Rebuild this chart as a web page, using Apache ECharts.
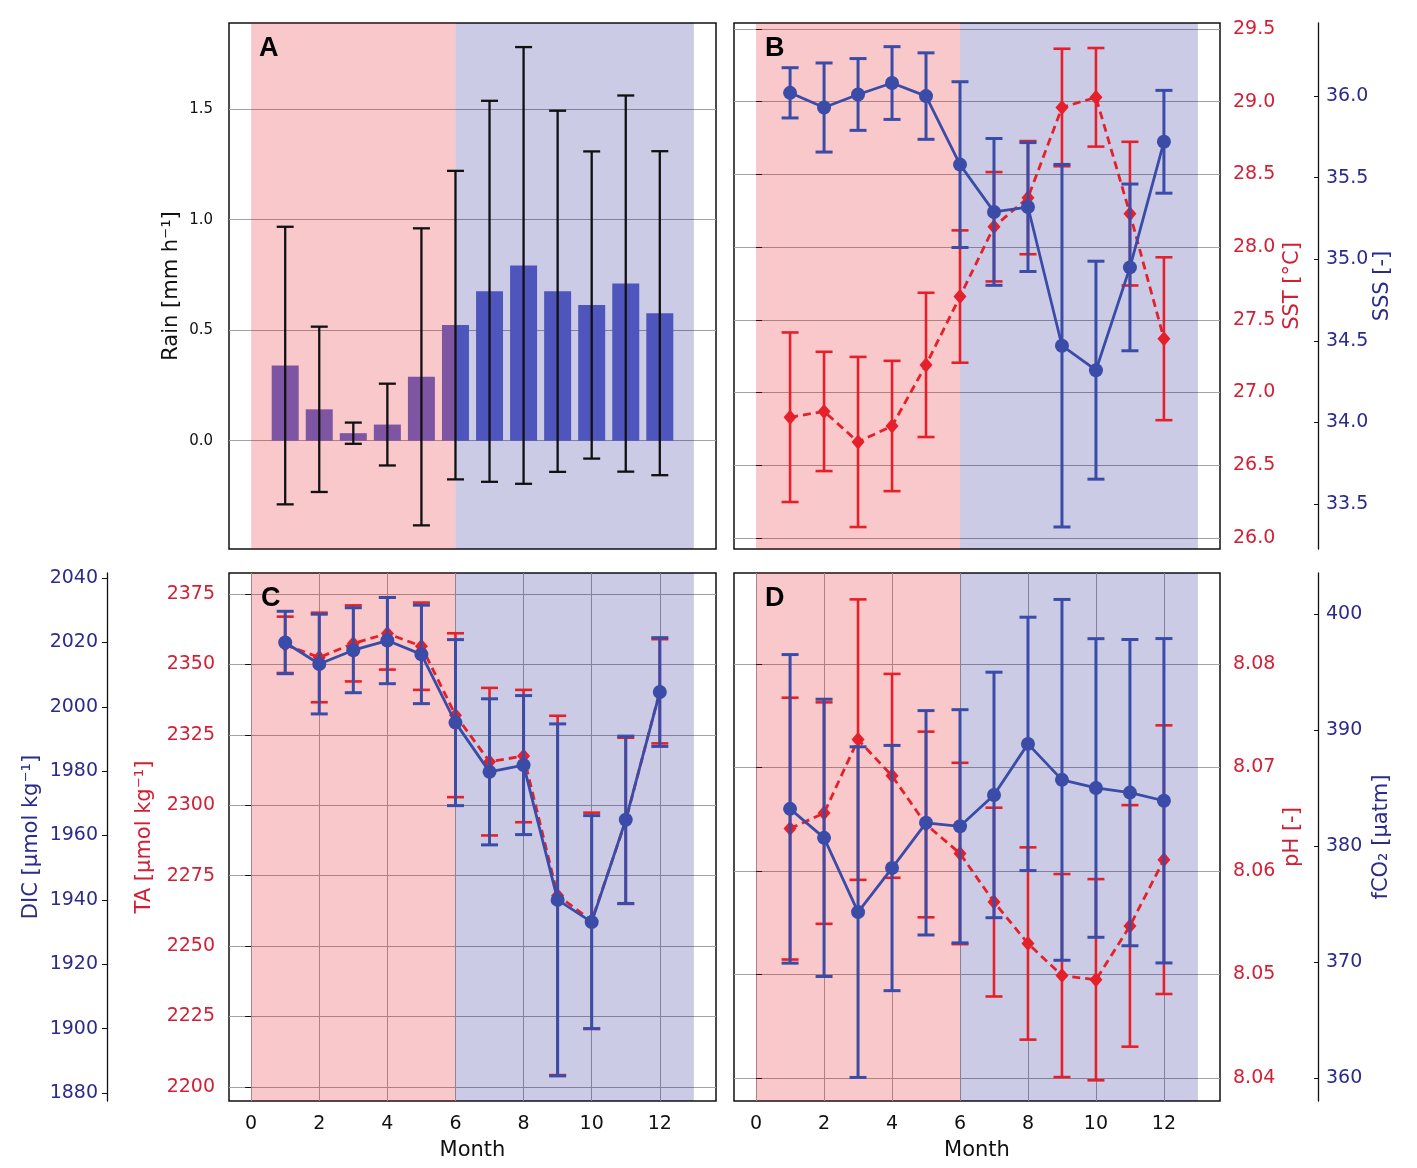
<!DOCTYPE html>
<html>
<head>
<meta charset="utf-8">
<script src="https://cdn.jsdelivr.net/npm/echarts@6/dist/echarts.min.js"></script>
<style>
html, body { margin: 0; background: #fff; }
#main { width: 1417px; height: 1168px; }
</style>
</head>
<body>
<div id="main"></div>
<script>
// monthly means and standard deviations
var months = [1, 2, 3, 4, 5, 6, 7, 8, 9, 10, 11, 12];

var rainMean = [0.340, 0.142, 0.034, 0.073, 0.289, 0.523, 0.676, 0.793, 0.676, 0.614, 0.711, 0.577];
var rainStd = [0.628, 0.374, 0.048, 0.185, 0.672, 0.698, 0.862, 0.988, 0.817, 0.695, 0.851, 0.733];

var sstMean = [26.83, 26.87, 26.66, 26.77, 27.19, 27.66, 28.14, 28.34, 28.96, 29.03, 28.23, 27.37];
var sstStd = [0.583, 0.410, 0.585, 0.448, 0.496, 0.455, 0.376, 0.389, 0.404, 0.339, 0.494, 0.560];
var sssMean = [36.02, 35.93, 36.01, 36.08, 36.00, 35.58, 35.29, 35.32, 34.47, 34.32, 34.95, 35.72];
var sssStd = [0.154, 0.273, 0.220, 0.223, 0.265, 0.508, 0.450, 0.395, 1.111, 0.668, 0.511, 0.315];

var taMean = [2357.0, 2352.5, 2357.5, 2361.0, 2356.5, 2332.0, 2315.5, 2317.5, 2268.0, 2259.0, 2294.5, 2340.5];
var taStd = [10.0, 15.9, 13.5, 12.8, 15.5, 29.1, 26.2, 23.5, 63.8, 38.4, 29.5, 18.5];
var dicMean = [2020.0, 2013.3, 2017.6, 2020.6, 2016.3, 1995.1, 1979.8, 1981.9, 1940.0, 1933.1, 1964.9, 2004.6];
var dicStd = [9.7, 15.5, 13.2, 13.4, 15.3, 25.8, 22.7, 21.6, 54.7, 33.1, 26.0, 16.9];

var phMean = [8.0641, 8.0656, 8.0727, 8.0692, 8.0645, 8.0617, 8.0570, 8.0530, 8.0499, 8.0495, 8.0547, 8.0611];
var phStd = [0.01265, 0.0107, 0.01355, 0.00985, 0.00897, 0.00876, 0.00912, 0.00929, 0.00981, 0.00972, 0.01167, 0.01298];
var fco2Mean = [383.2, 380.7, 374.3, 378.1, 382.0, 381.7, 384.4, 388.8, 385.7, 385.0, 384.6, 383.9];
var fco2Std = [13.3, 11.95, 14.25, 10.57, 9.67, 10.05, 10.58, 10.92, 15.55, 12.87, 13.2, 13.98];

// shaded seasons (month range)
var seasonFrom = [0, 6];
var seasonTo = [6, 13];

// tick labels
var monthTicks = [0, 2, 4, 6, 8, 10, 12];
var rainTicks = [0, 0.5, 1.0, 1.5];
var sstTicks = [26.0, 26.5, 27.0, 27.5, 28.0, 28.5, 29.0, 29.5];
var sssTicks = [33.5, 34.0, 34.5, 35.0, 35.5, 36.0];
var taTicks = [2200, 2225, 2250, 2275, 2300, 2325, 2350, 2375];
var dicTicks = [1880, 1900, 1920, 1940, 1960, 1980, 2000, 2020, 2040];
var phTicks = [8.04, 8.05, 8.06, 8.07, 8.08];
var fco2Ticks = [360, 370, 380, 390, 400];

var RED = '#e6202a';
var BLUE = '#3a4ca8';
var RED_TXT = '#d21f34';
var BLUE_TXT = '#2b2b8c';
var FONT = 'DejaVu Sans';
var GRIDLINE = '#a2a2a2';

var chart = echarts.init(document.getElementById('main'));

function pairs(ys) {
	return months.map(function (m, i) { return [m, ys[i]]; });
}
function triples(ys, sd) {
	return months.map(function (m, i) { return [m, ys[i], sd[i]]; });
}

function errorBars(xi, yi, mean, sd, color, width, z) {
	return {
		type: 'custom', xAxisIndex: xi, yAxisIndex: yi, z: z, silent: true,
		data: triples(mean, sd),
		encode: { x: 0, y: 1 },
		renderItem: function (params, api) {
			var x = api.value(0), m = api.value(1), s = api.value(2);
			var p1 = api.coord([x, m + s]);
			var p2 = api.coord([x, m - s]);
			var hw = 8.5;
			var st = { stroke: color, lineWidth: width };
			return {
				type: 'group',
				children: [
					{ type: 'line', shape: { x1: p1[0], y1: p1[1], x2: p2[0], y2: p2[1] }, style: st },
					{ type: 'line', shape: { x1: p1[0] - hw, y1: p1[1], x2: p1[0] + hw, y2: p1[1] }, style: st },
					{ type: 'line', shape: { x1: p2[0] - hw, y1: p2[1], x2: p2[0] + hw, y2: p2[1] }, style: st }
				]
			};
		}
	};
}

function bands(xi, yi) {
	var fills = ['rgba(225,0,10,0.215)', 'rgba(0,0,127,0.205)'];
	return {
		type: 'custom', xAxisIndex: xi, yAxisIndex: yi, z: 2, silent: true,
		data: seasonFrom.map(function (f, i) { return [f, seasonTo[i], 0]; }),
		encode: { x: [0, 1], y: 2 },
		renderItem: function (params, api) {
			var a = api.coord([api.value(0), 0]);
			var b = api.coord([api.value(1), 0]);
			var cs = params.coordSys;
			return {
				type: 'rect',
				shape: { x: a[0], y: cs.y, width: b[0] - a[0], height: cs.height },
				style: { fill: fills[params.dataIndex] }
			};
		}
	};
}

function meanLine(xi, yi, data, color, dashed, z) {
	return {
		type: 'line', xAxisIndex: xi, yAxisIndex: yi, z: z, silent: true,
		data: pairs(data),
		symbol: dashed ? 'diamond' : 'circle',
		symbolSize: dashed ? [13, 15] : 14,
		showSymbol: true,
		lineStyle: { color: color, width: 2.8, type: dashed ? [8, 5] : 'solid' },
		itemStyle: { color: color }
	};
}

// red (dashed) pair first, blue (solid) pair drawn on top of it
function pairSeries(xi, yRed, yBlue, redMean, redStd, blueMean, blueStd) {
	return [
		bands(xi, yRed),
		errorBars(xi, yRed, redMean, redStd, RED, 2.6, 3),
		meanLine(xi, yRed, redMean, RED, true, 4),
		errorBars(xi, yBlue, blueMean, blueStd, BLUE, 3, 5),
		meanLine(xi, yBlue, blueMean, BLUE, false, 6)
	];
}

function xAx(i) {
	var lower = i >= 2;
	return {
		gridIndex: i, type: 'value', min: -0.65, max: 13.65,
		minInterval: 2, maxInterval: 2,
		name: lower ? 'Month' : '', nameLocation: 'middle', nameGap: 39,
		nameTextStyle: { fontSize: 21, color: '#111', fontFamily: FONT },
		axisLine: { show: false },
		axisTick: { show: false, customValues: monthTicks },
		axisLabel: { show: lower, customValues: monthTicks, fontSize: 19, color: '#111', margin: 14, fontFamily: FONT },
		splitLine: { show: lower, lineStyle: { color: GRIDLINE, width: 1 } }
	};
}

function yAx(grid, pos, offset, min, max, step, ticks, name, gap, txtColor, digits, opts) {
	return {
		gridIndex: grid, type: 'value', position: pos, offset: offset,
		min: min, max: max, minInterval: step, maxInterval: step,
		name: name, nameLocation: 'middle', nameGap: gap,
		nameTextStyle: { fontSize: 21, color: txtColor, fontFamily: FONT },
		axisLine: { show: !!opts.line, lineStyle: { color: '#111', width: 1.3 } },
		axisTick: { show: opts.tick !== false, length: opts.tickLen || 6, inside: !!opts.inside, customValues: ticks, lineStyle: { color: '#111' } },
		axisLabel: {
			customValues: ticks, fontSize: opts.fs || 19, color: txtColor, margin: opts.margin,
			fontFamily: FONT,
			formatter: function (v) { return v.toFixed(digits); }
		},
		splitLine: { show: !!opts.split, lineStyle: { color: GRIDLINE, width: 1 } }
	};
}

var letterStyle = { fontSize: 27, fontWeight: 'bold', fontFamily: 'Liberation Sans', fill: '#000' };

var option = {
	animation: false,
	backgroundColor: '#fff',
	grid: [
		{ left: 229, top: 23, width: 487, height: 526 },
		{ left: 734, top: 23, width: 486, height: 526 },
		{ left: 229, top: 573, width: 487, height: 528 },
		{ left: 734, top: 573, width: 486, height: 528 }
	].map(function (g) {
		g.show = true; g.borderColor = '#111'; g.borderWidth = 1.5; g.backgroundColor = 'transparent';
		return g;
	}),
	xAxis: [xAx(0), xAx(1), xAx(2), xAx(3)],
	yAxis: [
		yAx(0, 'left', 0, -0.49, 1.89, 0.5, rainTicks, 'Rain [mm h⁻¹]', 47, '#111', 1, { tick: false, margin: 16, fs: 15, split: true }),
		yAx(1, 'right', 0, 25.924, 29.541, 0.5, sstTicks, 'SST [°C]', 62, RED_TXT, 1, { margin: 13, split: true }),
		yAx(1, 'right', 98, 33.224, 36.448, 0.5, sssTicks, 'SSS [-]', 53, BLUE_TXT, 1, { line: true, tickLen: 4, inside: true, margin: 8 }),
		yAx(2, 'left', 0, 2195, 2382.5, 25, taTicks, 'TA [µmol kg⁻¹]', 74, RED_TXT, 0, { margin: 14, split: true }),
		yAx(2, 'left', 122, 1877.5, 2041.6, 20, dicTicks, 'DIC [µmol kg⁻¹]', 65, BLUE_TXT, 0, { line: true, tickLen: 5, margin: 9 }),
		yAx(3, 'right', 0, 8.03778, 8.0888, 0.01, phTicks, 'pH [-]', 62, RED_TXT, 2, { margin: 13, split: true }),
		yAx(3, 'right', 98, 358.02, 403.53, 10, fco2Ticks, 'fCO₂ [µatm]', 53, BLUE_TXT, 0, { line: true, tickLen: 4, inside: true, margin: 8 })
	],
	graphic: [
		{ type: 'text', left: 259, top: 35, z: 100, style: Object.assign({ text: 'A' }, letterStyle) },
		{ type: 'text', left: 765, top: 35, z: 100, style: Object.assign({ text: 'B' }, letterStyle) },
		{ type: 'text', left: 261, top: 585, z: 100, style: Object.assign({ text: 'C' }, letterStyle) },
		{ type: 'text', left: 765, top: 585, z: 100, style: Object.assign({ text: 'D' }, letterStyle) }
	],
	series: [
		// A: rain bars under the season shading
		{
			type: 'bar', xAxisIndex: 0, yAxisIndex: 0, z: 1, silent: true,
			data: pairs(rainMean), barWidth: 27,
			itemStyle: { color: '#626dcd' }
		},
		bands(0, 0),
		errorBars(0, 0, rainMean, rainStd, '#111', 2.3, 3)
	]
		.concat(pairSeries(1, 1, 2, sstMean, sstStd, sssMean, sssStd))
		.concat(pairSeries(2, 3, 4, taMean, taStd, dicMean, dicStd))
		.concat(pairSeries(3, 5, 6, phMean, phStd, fco2Mean, fco2Std))
};
chart.setOption(option);
</script>
</body>
</html>
